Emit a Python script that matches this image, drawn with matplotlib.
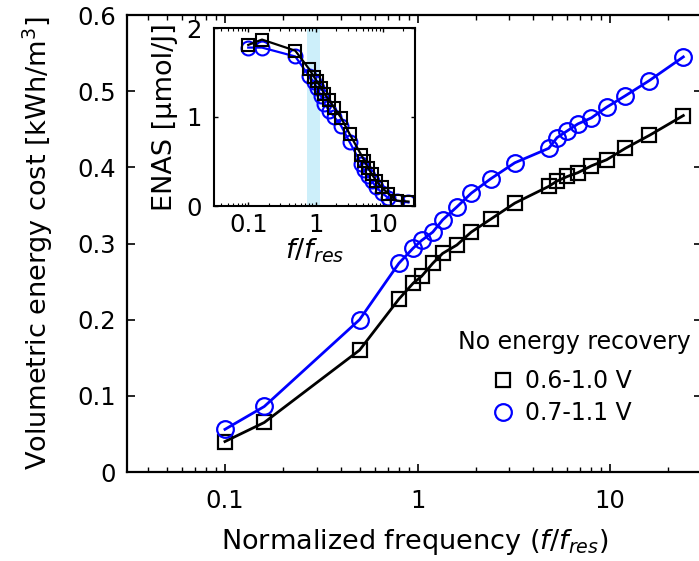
import numpy as np
import matplotlib.pyplot as plt
from matplotlib.lines import Line2D

plt.rcParams['font.family'] = ['DejaVu Sans']
plt.rcParams['mathtext.fontset'] = 'dejavusans'

# normalized frequency f/f_res
freq = [0.1, 0.16, 0.5, 0.8, 0.95, 1.05, 1.2, 1.35, 1.6, 1.9, 2.4, 3.2,
        4.8, 5.3, 6.0, 6.8, 8.0, 9.6, 12, 16, 24]

# volumetric energy cost [kWh/m3]
cost_06 = [0.040, 0.065, 0.160, 0.227, 0.248, 0.257, 0.274, 0.287, 0.298, 0.315, 0.332,
           0.353, 0.375, 0.382, 0.388, 0.393, 0.402, 0.410, 0.425, 0.442, 0.468]
cost_07 = [0.056, 0.086, 0.200, 0.274, 0.294, 0.304, 0.315, 0.331, 0.348, 0.366, 0.385,
           0.406, 0.425, 0.439, 0.448, 0.457, 0.465, 0.479, 0.494, 0.514, 0.545]

# ENAS [umol/J] (inset)
enas_06 = [1.81, 1.87, 1.745, 1.54, 1.45, 1.40, 1.33, 1.26, 1.19, 1.10, 0.99,
           0.81, 0.57, 0.51, 0.43, 0.36, 0.28, 0.21, 0.14, 0.06, 0.05]
enas_07 = [1.78, 1.78, 1.68, 1.46, 1.39, 1.33, 1.24, 1.15, 1.07, 1.00, 0.90,
           0.72, 0.47, 0.40, 0.34, 0.28, 0.21, 0.15, 0.09, 0.06, 0.04]

band = [0.74, 1.18]
labels = ['0.6-1.0 V', '0.7-1.1 V']

blue = '#0000ff'
fs_tick = 17.5
fs_lab = 19.5
fs_leg = 17

fig = plt.figure(figsize=(6.99, 5.61), dpi=100)
ax = fig.add_axes([127/699, 89/561, 575/699, 457/561])

ax.plot(freq, cost_06, color='k', lw=2, marker='s', ms=10, mfc='none', mec='k', mew=1.6)
ax.plot(freq, cost_07, color=blue, lw=2, marker='o', ms=12, mfc='none', mec=blue, mew=1.6)

ax.set_xscale('log')
ax.set_xlim(0.031, 30)
ax.set_ylim(0, 0.6)
ax.set_xticks([0.1, 1, 10])
ax.set_xticklabels(['0.1', '1', '10'])
ax.set_yticks([0, 0.1, 0.2, 0.3, 0.4, 0.5, 0.6])
ax.set_yticklabels(['0', '0.1', '0.2', '0.3', '0.4', '0.5', '0.6'])
ax.tick_params(which='both', direction='in', top=True, right=True, labelsize=fs_tick)
ax.tick_params(which='major', length=6, width=1.2)
ax.tick_params(which='minor', length=3.5, width=1.0)
ax.tick_params(axis='x', pad=12)
ax.tick_params(axis='y', pad=8)
for s in ax.spines.values():
    s.set_linewidth(1.6)
ax.set_xlabel('Normalized frequency ($f/f_{res}$)', fontsize=fs_lab, labelpad=10)
ax.set_ylabel('Volumetric energy cost [kWh/m$^3$]', fontsize=fs_lab, labelpad=16)

# legend: title as separate text, entries below
fig.text(574/699, 1 - 342/561, 'No energy recovery', fontsize=fs_leg, ha='center', va='center')
handles = [Line2D([], [], ls='none', marker='s', ms=10, mfc='none', mec='k', mew=1.6),
           Line2D([], [], ls='none', marker='o', ms=12, mfc='none', mec=blue, mew=1.6)]
ax.legend(handles, labels, fontsize=fs_leg, frameon=False, loc='center left',
          bbox_to_anchor=(491/699, 1 - 397/561), bbox_transform=fig.transFigure,
          borderpad=0, borderaxespad=0, handlelength=1.0, handletextpad=0.44,
          labelspacing=0.35)

# inset
ins = fig.add_axes([214/699, 355/561, 201/699, 178/561])
ins.axvspan(band[0], band[1], color='#cdeffa', lw=0, zorder=0)
ins.plot(freq, enas_07, color=blue, lw=1.6, marker='o', ms=10, mfc='none', mec=blue, mew=1.5)
ins.plot(freq, enas_06, color='k', lw=1.6, marker='s', ms=9, mfc='none', mec='k', mew=1.5)
ins.set_xscale('log')
ins.set_xlim(0.031, 30)
ins.set_ylim(0, 2)
ins.set_xticks([0.1, 1, 10])
ins.set_xticklabels(['0.1', '1', '10'])
ins.set_yticks([0, 1, 2])
ins.set_yticklabels(['0', '1', '2'])
ins.tick_params(which='both', direction='in', top=True, right=True, labelsize=fs_tick)
ins.tick_params(which='major', length=3, width=1.0)
ins.tick_params(which='minor', length=2, width=0.8)
ins.tick_params(axis='x', pad=5)
ins.tick_params(axis='y', pad=9)
for s in ins.spines.values():
    s.set_linewidth(1.5)
ins.set_xlabel('$f/f_{res}$', fontsize=fs_lab, labelpad=0)
ins.set_ylabel('ENAS [μmol/J]', fontsize=fs_lab, labelpad=6)

fig.savefig('out.png', dpi=100)
